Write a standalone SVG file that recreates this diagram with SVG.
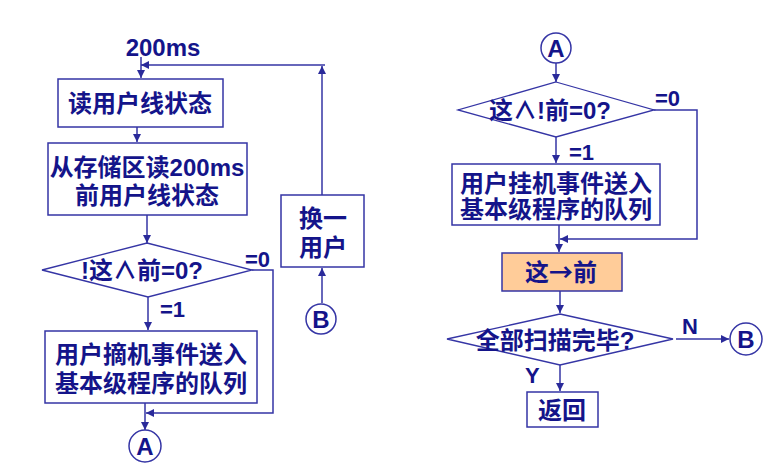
<svg xmlns="http://www.w3.org/2000/svg" width="775" height="475" viewBox="0 0 775 475">
<defs>
<style>
.bg{fill:#ffffff}
.box{fill:#ffffff;stroke:#3535a5;stroke-width:1.5}
.hl{fill:#ffcc99;stroke:#3535a5;stroke-width:1.5}
.dia{fill:#ffffff;stroke:#3535a5;stroke-width:1.3}
.con{fill:none;stroke:#3535a5;stroke-width:1.5}
.t{font-family:"Liberation Sans","Noto Sans CJK SC",sans-serif;font-weight:bold;font-size:24px;fill:#14148a;text-anchor:middle}
.lb{font-family:"Liberation Sans","Noto Sans CJK SC",sans-serif;font-weight:bold;font-size:22px;fill:#14148a}
.circ{fill:#ffffff;stroke:#3535a5;stroke-width:1.5}
.cjk{font-family:"Noto Sans CJK SC",sans-serif}
</style>
<marker id="ah" viewBox="0 0 10 10" refX="10" refY="5" markerWidth="8" markerHeight="8" markerUnits="userSpaceOnUse" orient="auto">
<path d="M0,0 L10,5 L0,10 Z" fill="#2a2a9a"/>
</marker>
</defs>
<rect class="bg" x="0" y="0" width="775" height="475"/>

<g id="connectors">
<path class="con" d="M141,57 V78" marker-end="url(#ah)"/>
<path class="con" d="M322,195 V66" marker-end="url(#ah)"/>
<path class="con" d="M325,65 H141" marker-end="url(#ah)"/>
<path class="con" d="M137,127 V142" marker-end="url(#ah)"/>
<path class="con" d="M147,215 V243" marker-end="url(#ah)"/>
<path class="con" d="M148,297 V330" marker-end="url(#ah)"/>
<path class="con" d="M252,270 H273 V413 H146" marker-end="url(#ah)"/>
<path class="con" d="M145,403 V430" marker-end="url(#ah)"/>
<path class="con" d="M322,303 V268" marker-end="url(#ah)"/>
<path class="con" d="M556,63 V82" marker-end="url(#ah)"/>
<path class="con" d="M556,137 V163" marker-end="url(#ah)"/>
<path class="con" d="M654,110 H697 V239 H560" marker-end="url(#ah)"/>
<path class="con" d="M559,225 V252" marker-end="url(#ah)"/>
<path class="con" d="M560,291 V313" marker-end="url(#ah)"/>
<path class="con" d="M676,339 H729" marker-end="url(#ah)"/>
<path class="con" d="M560,365 V391" marker-end="url(#ah)"/>
</g>

<g id="labels">
<text class="lb" x="163" y="56" style="font-size:24px;text-anchor:middle">200ms</text>
<text class="lb" x="245" y="267">=0</text>
<text class="lb" x="160" y="317">=1</text>
<text class="lb" x="655" y="106">=0</text>
<text class="lb" x="569" y="160">=1</text>
<text class="lb" x="682" y="334">N</text>
<text class="lb" x="525" y="383">Y</text>
</g>

<g id="n-read">
<rect class="box" x="58" y="79" width="165" height="48"/>
<text class="t" x="140" y="112">读用户线状态</text>
</g>
<g id="n-readprev">
<rect class="box" x="48" y="143" width="199" height="72"/>
<text class="t" x="147" y="176">从存储区读200ms</text>
<text class="t" x="147" y="204">前用户线状态</text>
</g>
<g id="n-cond1">
<polygon class="dia" points="147,243 252,270 148,297 42,270"/>
<text class="t" x="142" y="279">!这∧前=0?</text>
</g>
<g id="n-offhook">
<rect class="box" x="45" y="331" width="212" height="72"/>
<text class="t" x="151" y="363">用户摘机事件送入</text>
<text class="t" x="151" y="392">基本级程序的队列</text>
</g>
<g id="n-A1">
<circle class="circ" cx="145" cy="446" r="16"/>
<text class="t" x="145" y="455">A</text>
</g>
<g id="n-next">
<rect class="box" x="281" y="195" width="83" height="72"/>
<text class="t" x="323" y="227">换一</text>
<text class="t" x="323" y="256">用户</text>
</g>
<g id="n-B1">
<circle class="circ" cx="321" cy="319" r="15"/>
<text class="t" x="321" y="328">B</text>
</g>

<g id="n-A2">
<circle class="circ" cx="556" cy="48" r="15"/>
<text class="t" x="556" y="57">A</text>
</g>
<g id="n-cond2">
<polygon class="dia" points="556,82 654,110 556,137 458,110"/>
<text class="t" x="550" y="119">这∧!前=0?</text>
</g>
<g id="n-onhook">
<rect class="box" x="452" y="164" width="208" height="61"/>
<text class="t" x="556" y="192">用户挂机事件送入</text>
<text class="t" x="556" y="218">基本级程序的队列</text>
</g>
<g id="n-copy">
<rect class="hl" x="502" y="253" width="120" height="38"/>
<text class="t" x="561" y="281">这<tspan class="cjk">→</tspan>前</text>
</g>
<g id="n-cond3">
<polygon class="dia" points="560,314 673,339 560,365 447,339"/>
<text class="t" x="555" y="349">全部扫描完毕?</text>
</g>
<g id="n-B2">
<circle class="circ" cx="746" cy="339" r="16"/>
<text class="t" x="746" y="348">B</text>
</g>
<g id="n-return">
<rect class="box" x="527" y="392" width="71" height="35"/>
<text class="t" x="562" y="419">返回</text>
</g>
</svg>
